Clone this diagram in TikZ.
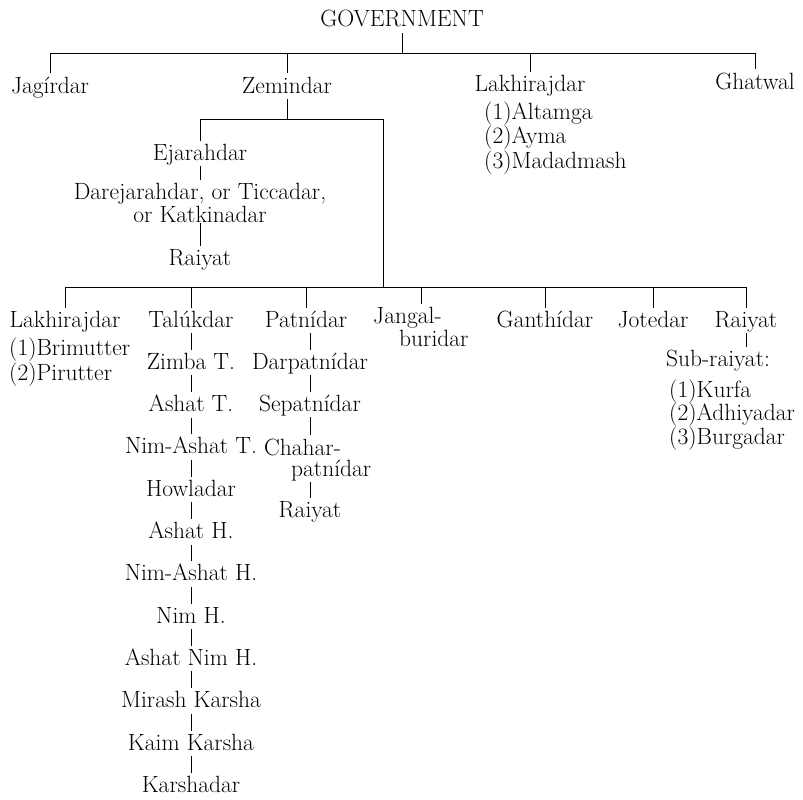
\documentclass[tikz,border=0pt]{standalone}
\usetikzlibrary{calc}
\tikzset{
  lbl/.style={font=\fontsize{23.5}{24}\selectfont, inner sep=1pt},
  one/.style={lbl, anchor=base, text height=15.8pt, text depth=4.8pt},
  stack/.style={lbl, anchor=base, align=center, font=\fontsize{23.5}{19.5}\selectfont},
  list/.style={lbl, anchor=base west, align=left, font=\fontsize{23.5}{23}\selectfont},
  conn/.style={line width=0.7pt},
  tonode/.style={conn, shorten >=2.5pt},
}
\begin{document}
\begin{tikzpicture}[x=1pt,y=-1pt]
\useasboundingbox (0,0) rectangle (803,800);

% top level
\node[one] (gov) at (402,27) {GOVERNMENT};
\coordinate (topbar) at (402,53);
\node[one] (jag) at (50,93) {Jagírdar};
\node[one] (zem) at (287,93) {Zemindar};
\node[one] (lakh) at (530,92) {Lakhirajdar};
\node[one] (ghat) at (755,89) {Ghatwal};
% base of a stacked node is its last line
\node[list] (lakhl) at (483,168) {(1)Altamga\\(2)Ayma\\(3)Madadmash};

\draw[conn] (gov.south) -- (topbar);
\draw[conn] (jag.north |- topbar) -- (ghat.north |- topbar);
\foreach \n in {jag,zem,lakh,ghat}
  \draw[tonode] (\n.north |- topbar) -- (\n.north);

% under the zemindar
\coordinate (zbar) at (287,119);
\coordinate (zcorner) at (383,119);
\coordinate (mbar) at (383,287);
\node[one] (ejar) at (200,160) {Ejarahdar};
\node[stack] (dare) at (200,222) {Darejarahdar, or Ticcadar,\\or Katkinadar};
\node[one] (ray1) at (200,265) {Raiyat};

\draw[conn] (zem.south) -- (zbar);
\draw[conn] (ejar.north |- zbar) -- (zcorner) -- (mbar);
\draw[tonode] (ejar.north |- zbar) -- (ejar.north);
\draw[tonode] (ejar.south) -- (dare.north);
\draw[tonode] (dare.south) -- (ray1.north);

% main row
\node[one] (lak2) at (65,327) {Lakhirajdar};
\node[list, font=\fontsize{23.5}{25}\selectfont] (lak2l) at (8,380) {(1)Brimutter\\(2)Pirutter};
\node[one] (t0) at (191,327) {Talúkdar};
\node[one] (p0) at (306,327) {Patnídar};
\node[stack, align=left, anchor=base west] (jang) at (372,346) {Jangal-\\\hspace*{26pt}buridar};
\node[one] (gan) at (545,327) {Ganthídar};
\node[one] (jot) at (653,327) {Jotedar};
\node[one] (ray2) at (746,327) {Raiyat};

\draw[conn] (lak2.north |- mbar) -- (ray2.north |- mbar);
\foreach \n in {lak2,t0,p0,jang,gan,jot,ray2}
  \draw[tonode] (\n.north |- mbar) -- (\n.north);

% talukdar chain
\foreach \txt [count=\i] in {Zimba T.,Ashat T.,Nim-Ashat T.,Howladar,Ashat H.,Nim-Ashat H.,Nim H.,Ashat Nim H.,Mirash Karsha,Kaim Karsha,Karshadar}
  \node[one] (t\i) at (191,{327+42.3*\i}) {\txt};
\foreach \i in {1,...,11}{
  \pgfmathtruncatemacro\prev{\i-1}
  \draw[tonode] (t\prev.south) -- (t\i.north);
}

% patnidar chain
\node[one] (p1) at (310,369) {Darpatnídar};
\node[one] (p2) at (310,411) {Sepatnídar};
\node[stack, align=left, anchor=base west, font=\fontsize{23.5}{21}\selectfont] (p3) at (263,476) {Chahar-\\\hspace*{27pt}patnídar};
\node[one] (p4) at (310,517) {Raiyat};
\draw[tonode] (p0.south -| p1.north) -- (p1.north);
\draw[tonode] (p1.south) -- (p2.north);
\draw[tonode] (p2.south) -- (p2.south |- p3.north);
\draw[tonode] (p4.north |- p3.south) -- (p4.north);

% sub-raiyat
\node[one] (sub) at (718,366) {Sub-raiyat:};
\node[list, font=\fontsize{23.5}{23.5}\selectfont] (subl) at (668,444) {(1)Kurfa\\(2)Adhiyadar\\(3)Burgadar};
\draw[tonode] (ray2.south) -- (ray2.south |- sub.north);
\end{tikzpicture}
\end{document}
